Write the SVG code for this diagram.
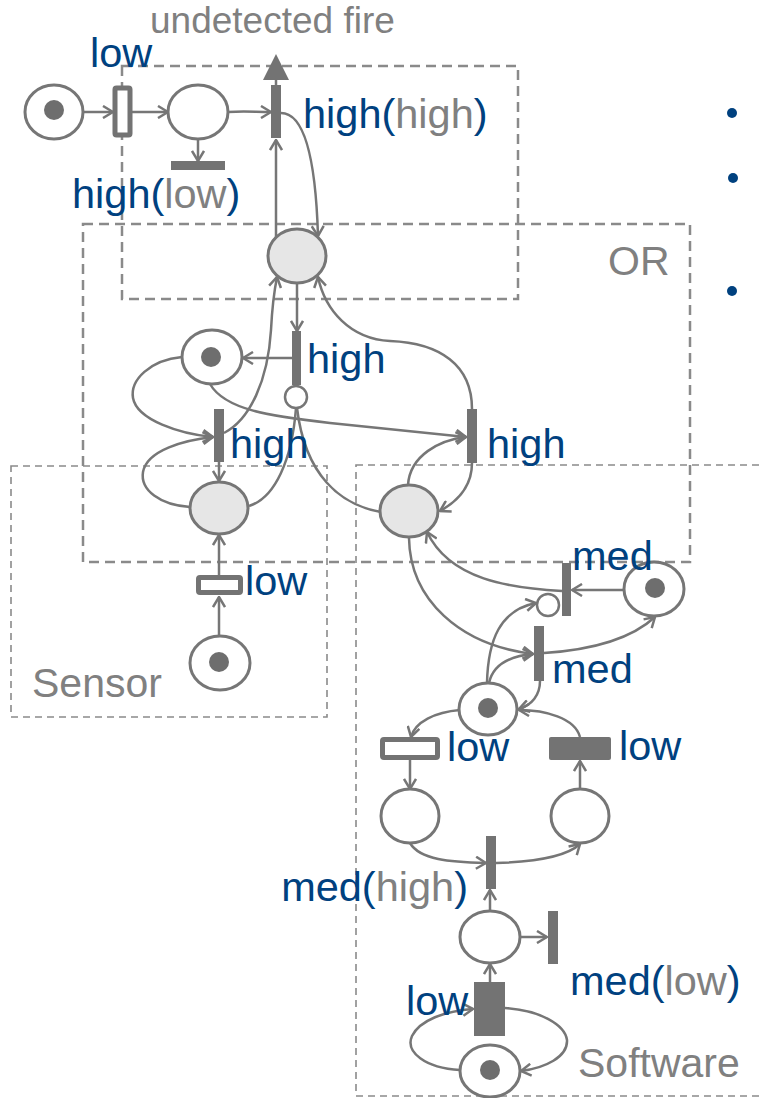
<svg xmlns="http://www.w3.org/2000/svg" width="760" height="1098" viewBox="0 0 760 1098">
  <style>
    .box { fill: none; stroke: #8a8a8a; stroke-width: 2.5; stroke-dasharray: 10 6; }
    .box-thin { fill: none; stroke: #8a8a8a; stroke-width: 1.6; stroke-dasharray: 7 5; }
    .place { fill: #ffffff; stroke: #767676; stroke-width: 3; }
    .shaded { fill: #e6e6e6; }
    .token { fill: #6e6e6e; }
    .bar { fill: #737373; }
    .hollow { fill: #ffffff; stroke: #737373; stroke-width: 5; }
    .arc { fill: none; stroke: #767676; stroke-width: 2.5; }
    .inhib { fill: #ffffff; stroke: #767676; stroke-width: 2.5; }
    .lbl { font-family: "Liberation Sans", Arial, sans-serif; font-size: 41.5px; fill: #00417f; }
    .grey { fill: #808080; }
    .note { font-family: "Liberation Sans", Arial, sans-serif; font-size: 41px; fill: #808080; }
    .bullet { fill: #00417f; }
  </style>
  <defs>
    <marker id="arr" viewBox="0 0 12 14" refX="11" refY="7" markerWidth="12" markerHeight="14" markerUnits="userSpaceOnUse" orient="auto">
      <path d="M1,1 L11,7 L1,13" fill="none" stroke="#767676" stroke-width="2.5"/>
    </marker>
  </defs>

  <!-- module boundaries -->
  <g id="boundaries">
    <rect class="box" x="122" y="66" width="396" height="233"/>
    <rect class="box" x="83" y="224" width="607" height="338"/>
    <rect class="box-thin" x="11" y="466" width="316" height="251"/>
    <rect class="box-thin" x="356" y="465" width="420" height="631"/>
  </g>

  <!-- arcs -->
  <g id="connectors">
    <path class="arc" marker-end="url(#arr)" d="M83,112 L113,112"/>
    <path class="arc" marker-end="url(#arr)" d="M132,112 L168,112"/>
    <path class="arc" marker-end="url(#arr)" d="M198,139 L198,161"/>
    <path class="arc" marker-end="url(#arr)" d="M228,112 C245,111 255,112 271,112"/>
    <path class="arc" d="M276,85 L276,78"/>
    <polygon fill="#737373" points="263,80 289,80 276,54"/>
    <path class="arc" marker-end="url(#arr)" d="M276,238 L276,140"/>
    <path class="arc" marker-end="url(#arr)" d="M281,113 C307,113 316,170 318,236"/>
    <path class="arc" marker-end="url(#arr)" d="M297,283 L297,331"/>
    <path class="arc" marker-end="url(#arr)" d="M292,358 L243,358"/>
    <path class="arc" marker-end="url(#arr)" d="M182,357 C150,360 130,380 133,398 C137,420 180,434 213,437"/>
    <path class="arc" marker-end="url(#arr)" d="M190,507 C160,505 140,490 143,472 C147,450 185,440 213,437"/>
    <path class="arc" marker-end="url(#arr)" d="M224,433 C250,420 268,380 271,330 C272,310 274,292 277,277"/>
    <path class="arc" d="M249,506 C275,498 292,460 296,408"/>
    <path class="arc" d="M381,512 C340,505 305,475 297,408"/>
    <path class="arc" marker-end="url(#arr)" d="M210,384 C225,410 270,416 330,423 C400,430 440,434 466,437"/>
    <path class="arc" marker-end="url(#arr)" d="M472,409 C472,365 440,343 390,341 C350,339 325,310 318,277"/>
    <path class="arc" marker-end="url(#arr)" d="M408,485 C410,455 440,440 466,437"/>
    <path class="arc" marker-end="url(#arr)" d="M472,463 C472,485 460,500 440,511"/>
    <path class="arc" marker-end="url(#arr)" d="M219,462 L219,481"/>
    <path class="arc" marker-end="url(#arr)" d="M219,575 L219,535"/>
    <path class="arc" marker-end="url(#arr)" d="M219,636 L219,597"/>
    <path class="arc" marker-end="url(#arr)" d="M409,538 C410,600 460,645 533,654"/>
    <path class="arc" marker-end="url(#arr)" d="M624,590 L572,590"/>
    <path class="arc" marker-end="url(#arr)" d="M562,591 C510,588 450,580 427,532"/>
    <path class="arc" marker-end="url(#arr)" d="M544,653 C590,650 630,640 655,617"/>
    <path class="arc" marker-end="url(#arr)" d="M540,681 C540,695 532,705 519,709"/>
    <path class="arc" marker-end="url(#arr)" d="M487,683 C488,640 500,610 536,603"/>
    <path class="arc" marker-end="url(#arr)" d="M489,683 C493,665 510,656 533,654"/>
    <path class="arc" marker-end="url(#arr)" d="M460,710 C435,712 415,722 411,737"/>
    <path class="arc" marker-end="url(#arr)" d="M580,737 C575,718 545,710 519,710"/>
    <path class="arc" marker-end="url(#arr)" d="M410,760 L410,789"/>
    <path class="arc" marker-end="url(#arr)" d="M580,789 L580,761"/>
    <path class="arc" marker-end="url(#arr)" d="M410,843 C420,860 450,862 486,863"/>
    <path class="arc" marker-end="url(#arr)" d="M496,863 C530,862 565,858 580,844"/>
    <path class="arc" marker-end="url(#arr)" d="M490,911 L490,890"/>
    <path class="arc" marker-end="url(#arr)" d="M521,937 L547,937"/>
    <path class="arc" marker-end="url(#arr)" d="M490,982 L490,964"/>
    <path class="arc" marker-end="url(#arr)" d="M460,1070 C425,1068 405,1052 412,1036 C420,1020 445,1011 473,1009"/>
    <path class="arc" marker-end="url(#arr)" d="M505,1008 C540,1010 565,1025 567,1040 C568,1057 545,1068 521,1071"/>
  </g>

  <!-- places -->
  <g id="p-start"><ellipse class="place" cx="54" cy="112" rx="29" ry="27"/><circle class="token" cx="54" cy="110" r="10"/></g>
  <g id="p-fire"><ellipse class="place" cx="198" cy="112" rx="30" ry="27"/></g>
  <g id="p-or"><ellipse class="place shaded" cx="297" cy="256" rx="29" ry="27"/></g>
  <g id="p-sensor-ok"><ellipse class="place" cx="212" cy="357" rx="30" ry="27"/><circle class="token" cx="211" cy="357" r="10"/></g>
  <g id="p-sensor-fail"><ellipse class="place shaded" cx="219" cy="508" rx="29" ry="26"/></g>
  <g id="p-software-fail"><ellipse class="place shaded" cx="409" cy="511" rx="29" ry="26"/></g>
  <g id="p-sensor"><ellipse class="place" cx="220" cy="663" rx="30" ry="27"/><circle class="token" cx="219" cy="662" r="10"/></g>
  <g id="p-watch"><ellipse class="place" cx="654" cy="589" rx="30" ry="27"/><circle class="token" cx="655" cy="588" r="10"/></g>
  <g id="p-sw-ok"><ellipse class="place" cx="488" cy="709" rx="29" ry="26"/><circle class="token" cx="488" cy="708" r="10"/></g>
  <g id="p-a"><ellipse class="place" cx="410" cy="816" rx="29" ry="27"/></g>
  <g id="p-b"><ellipse class="place" cx="580" cy="816" rx="29" ry="27"/></g>
  <g id="p-c"><ellipse class="place" cx="490" cy="937" rx="30" ry="26"/></g>
  <g id="p-sw"><ellipse class="place" cx="490" cy="1071" rx="30" ry="26"/><circle class="token" cx="490" cy="1070" r="10"/></g>

  <!-- inhibitor ends -->
  <g id="inhibitors">
    <circle class="inhib" cx="296" cy="397" r="11"/>
    <circle class="inhib" cx="548" cy="605" r="11"/>
  </g>

  <!-- transitions -->
  <g id="t-low-top"><rect class="hollow" x="115" y="88" width="15" height="47" rx="1.5"/></g>
  <g id="t-high-low"><rect class="bar" x="171" y="161" width="54" height="9"/></g>
  <g id="t-high-high"><rect class="bar" x="271" y="85" width="10" height="53"/></g>
  <g id="t-or-reset"><rect class="bar" x="292" y="331" width="9" height="54"/></g>
  <g id="t-sensor-high"><rect class="bar" x="214" y="409" width="10" height="53"/></g>
  <g id="t-sw-high"><rect class="bar" x="467" y="409" width="10" height="54"/></g>
  <g id="t-sensor-low"><rect class="hollow" x="198.5" y="577.5" width="42" height="15" rx="1.5"/></g>
  <g id="t-med-1"><rect class="bar" x="562" y="563" width="9" height="53"/></g>
  <g id="t-med-2"><rect class="bar" x="534" y="626" width="10" height="55"/></g>
  <g id="t-low-1"><rect class="hollow" x="382.5" y="739.5" width="55" height="18" rx="1.5"/></g>
  <g id="t-low-2"><rect class="bar" x="549" y="737" width="62" height="23" rx="2"/></g>
  <g id="t-med-high"><rect class="bar" x="486" y="836" width="10" height="53"/></g>
  <g id="t-med-low"><rect class="bar" x="548" y="911" width="10" height="53"/></g>
  <g id="t-low-big"><rect class="bar" x="474" y="982" width="31" height="54"/></g>

  <!-- labels -->
  <g id="labels">
    <text class="note" x="150" y="33" style="font-size:37px">undetected fire</text>
    <text class="lbl" x="90" y="67">low</text>
    <text class="lbl" x="303" y="128">high(<tspan class="grey">high</tspan>)</text>
    <text class="lbl" x="72" y="208">high(<tspan class="grey">low</tspan>)</text>
    <text class="note" x="608" y="275">OR</text>
    <text class="lbl" x="307" y="373">high</text>
    <text class="lbl" x="230" y="458">high</text>
    <text class="lbl" x="487" y="458">high</text>
    <text class="lbl" x="245" y="595">low</text>
    <text class="note" x="32" y="697">Sensor</text>
    <text class="lbl" x="572" y="570">med</text>
    <text class="lbl" x="552" y="683">med</text>
    <text class="lbl" x="447" y="761">low</text>
    <text class="lbl" x="619" y="760">low</text>
    <text class="lbl" x="468" y="901" text-anchor="end">med(<tspan class="grey">high</tspan>)</text>
    <text class="lbl" x="570" y="995">med(<tspan class="grey">low</tspan>)</text>
    <text class="lbl" x="406" y="1015">low</text>
    <text class="note" x="578" y="1077">Software</text>
  </g>

  <!-- bullet marks -->
  <g id="bullets">
    <circle class="bullet" cx="732" cy="113" r="5"/>
    <circle class="bullet" cx="733" cy="178" r="5"/>
    <circle class="bullet" cx="732" cy="291" r="5"/>
  </g>
</svg>
